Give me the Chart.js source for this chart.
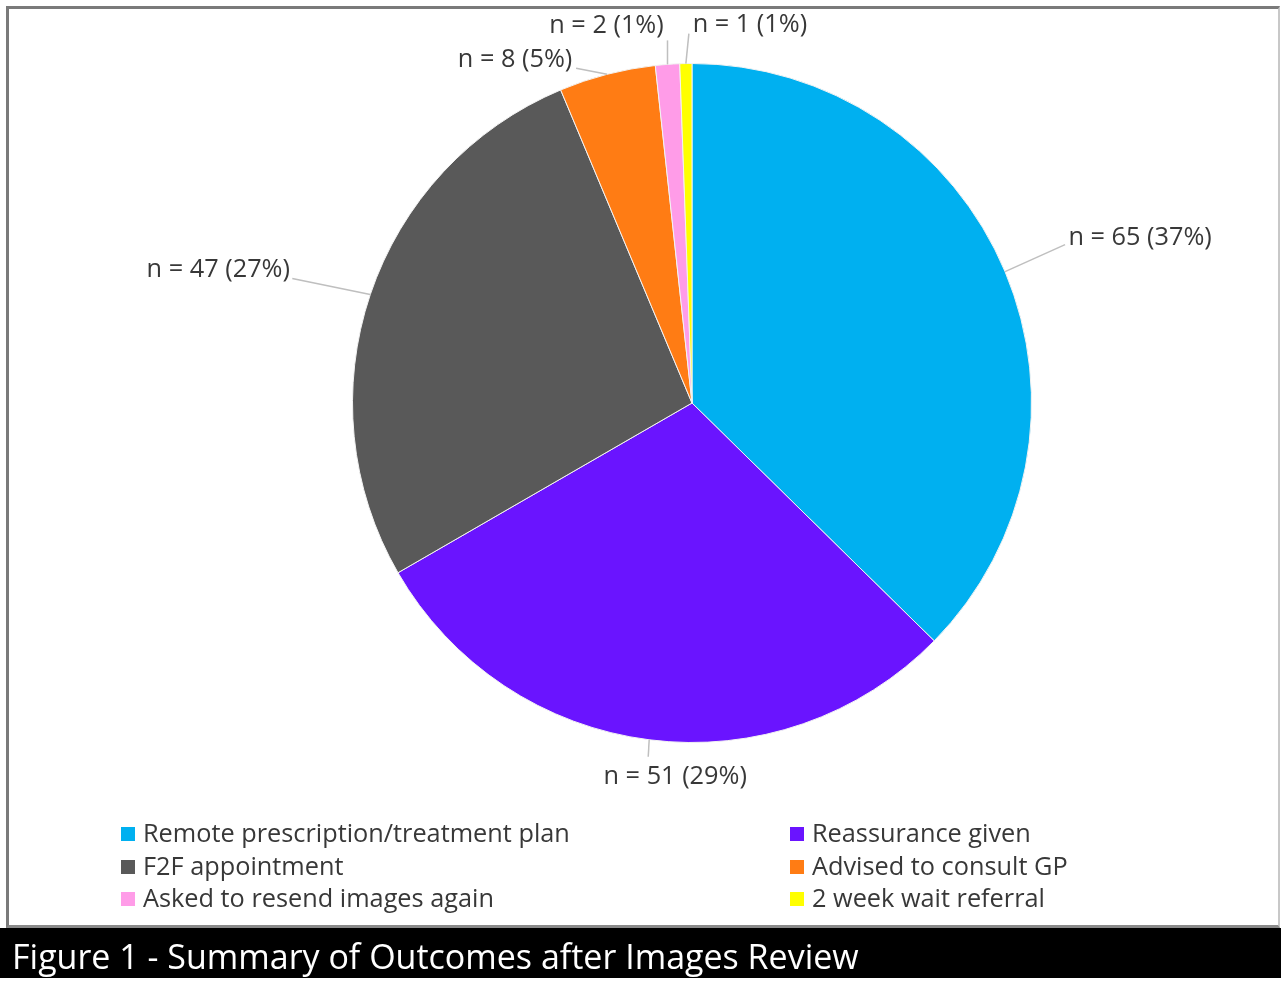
<!DOCTYPE html>
<html>
<head>
<meta charset="utf-8">
<script src="https://cdn.jsdelivr.net/npm/chart.js@4"></script>
<style>
  html, body { margin: 0; padding: 0; background: #fff; }
  body { width: 1281px; height: 982px; position: relative; overflow: hidden; font-family: "Open Sans", "Liberation Sans", sans-serif; }
  #frame { position: absolute; left: 6px; top: 6px; width: 1269px; height: 916px;
           border-top: 3px solid #7a7a7a; border-left: 3px solid #7a7a7a; border-right: 2px solid #c8c8c8; border-bottom: 3px solid #8a8a8a; }
  #caption { position: absolute; left: 0; top: 928px; width: 1281px; height: 50px; background: #000; color: #fff;
             font-size: 34px; line-height: 56px; padding-left: 12px; box-sizing: border-box; white-space: nowrap; overflow: hidden; }
  #legend { position: absolute; left: 0; top: 0; width: 1281px; height: 982px; pointer-events: none; }
  .li { position: absolute; font-size: 25.3px; color: #383838; white-space: nowrap; line-height: 32px; }
  .li span.box { display: inline-block; width: 14px; height: 14px; margin-right: 8px; vertical-align: 1px; }
  #wrap { position: absolute; left: 0; top: 0; width: 1281px; height: 982px; }
</style>
</head>
<body>
<div id="frame"></div>
<div id="wrap"><canvas id="c" width="1281" height="982"></canvas></div>
<div id="legend"></div>
<div id="caption">Figure 1 - Summary of Outcomes after Images Review</div>
<script>
const categories = [
  "Remote prescription/treatment plan",
  "Reassurance given",
  "F2F appointment",
  "Advised to consult GP",
  "Asked to resend images again",
  "2 week wait referral"
];
const counts = [65, 51, 47, 8, 2, 1];
const sliceColors = ["#00B0F0", "#6A14FF", "#595959", "#FF7C14", "#FF9CE8", "#FFFF00"];
const captionText = "Figure 1 - Summary of Outcomes after Images Review";

const total = counts.reduce((a, b) => a + b, 0);
const labelTexts = counts.map(v => "n = " + v + " (" + Math.round(v / total * 100) + "%)");

// leader-line end and text-centre offsets relative to each slice's outer edge midpoint
const labelPlacement = [
  { leader: [60, -27], text: [135, -34] },
  { leader: [-1, 17], text: [26, 37] },
  { leader: [-78, -16], text: [-152, -25] },
  { leader: [-31, -6], text: [-92, -14] },
  { leader: [0, -24], text: [-61, -39] },
  { leader: [3, -30], text: [64, -39] }
];

const outsideLabels = {
  id: 'outsideLabels',
  afterDatasetsDraw(chart) {
    const ctx = chart.ctx;
    const meta = chart.getDatasetMeta(0);
    ctx.save();
    meta.data.forEach((arc, i) => {
      const p = arc.getProps(['x', 'y', 'startAngle', 'endAngle', 'outerRadius'], true);
      const mid = (p.startAngle + p.endAngle) / 2;
      const ex = p.x + Math.cos(mid) * p.outerRadius;
      const ey = p.y + Math.sin(mid) * p.outerRadius;
      const pl = labelPlacement[i];
      ctx.strokeStyle = '#BFBFBF';
      ctx.lineWidth = 1.5;
      ctx.beginPath();
      ctx.moveTo(ex, ey);
      ctx.lineTo(ex + pl.leader[0], ey + pl.leader[1]);
      ctx.stroke();
      ctx.fillStyle = '#383838';
      ctx.font = '25.3px "Open Sans", "Liberation Sans", sans-serif';
      ctx.textAlign = 'center';
      ctx.textBaseline = 'middle';
      ctx.fillText(labelTexts[i], ex + pl.text[0], ey + pl.text[1]);
    });
    ctx.restore();
  }
};

new Chart(document.getElementById('c'), {
  type: 'pie',
  data: {
    labels: categories,
    datasets: [{
      data: counts,
      backgroundColor: sliceColors,
      borderColor: '#F2F2F2',
      borderWidth: 1
    }]
  },
  options: {
    responsive: false,
    animation: false,
    layout: { padding: { left: 352, top: 63, right: 249, bottom: 239 } },
    plugins: {
      legend: { display: false },
      tooltip: { enabled: false }
    }
  },
  plugins: [outsideLabels]
});

// two-column legend built from the arrays (row-major, as in the original)
const legendEl = document.getElementById('legend');
const colX = [121, 790];
const rowY = [816, 849, 881];
categories.forEach((name, i) => {
  const d = document.createElement('div');
  d.className = 'li';
  d.style.left = colX[i % 2] + 'px';
  d.style.top = rowY[Math.floor(i / 2)] + 'px';
  const b = document.createElement('span');
  b.className = 'box';
  b.style.background = sliceColors[i];
  d.appendChild(b);
  d.appendChild(document.createTextNode(name));
  legendEl.appendChild(d);
});
document.getElementById('caption').textContent = captionText;
</script>
</body>
</html>
